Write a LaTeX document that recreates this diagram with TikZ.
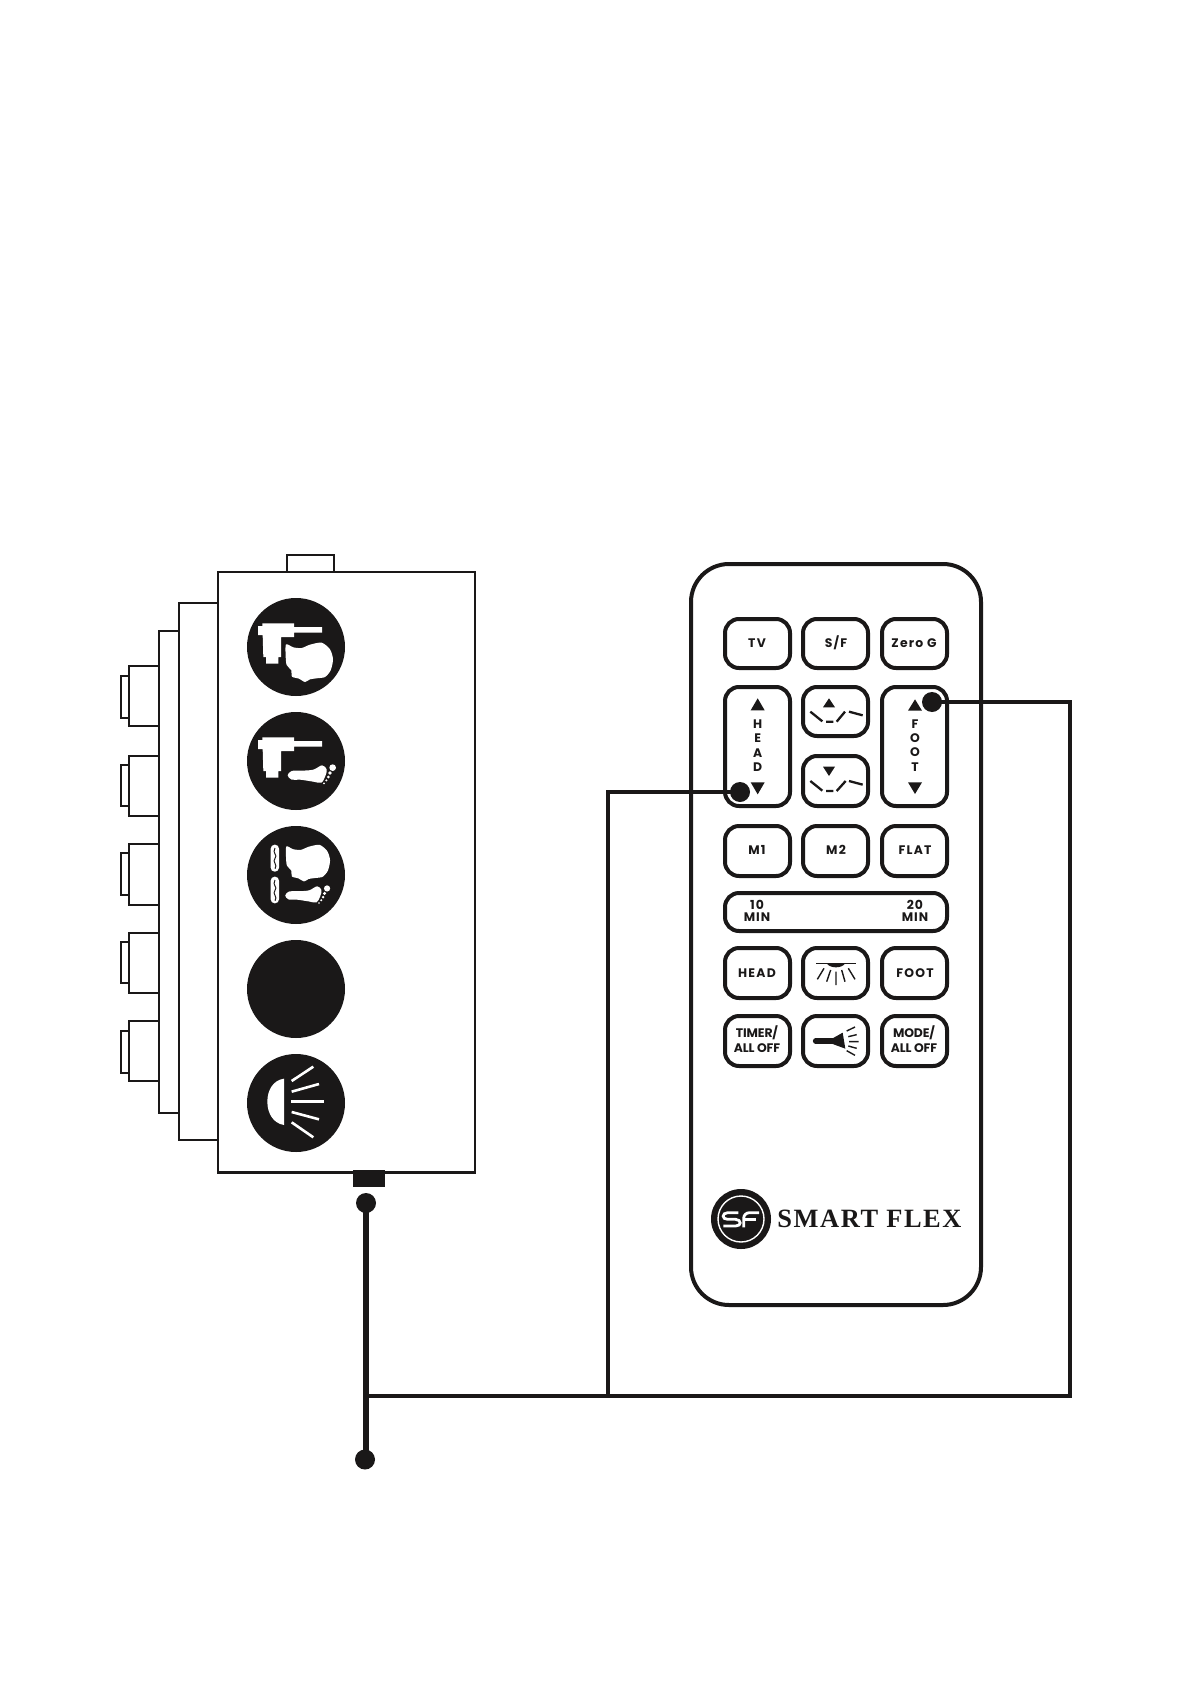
\documentclass[tikz,border=0pt]{standalone}
\usepackage{fontspec}
\setmainfont{Poppins}
\newfontfamily\btnfont[LetterSpace=10]{Poppins}
\newfontfamily\tightfont[LetterSpace=-1]{Poppins}
\newfontfamily\wideminfont[LetterSpace=8]{Poppins}
\newfontfamily\logofont[LetterSpace=6]{Liberation Serif}
\definecolor{ink}{HTML}{1A1818}
\newcommand{\actshape}{(457,247) -- (552,247) -- (552,258) -- (636,258) -- (636,275) -- (552,275) -- (552,288) -- (513,288) -- (513,348) -- (505,348) -- (505,368) -- (468,368) -- (468,348) -- (460,348) -- (458,282) -- (444,282) -- (444,255) -- (457,255) -- cycle}
\newcommand{\headshape}{plot[smooth cycle,tension=.45] coordinates {(528,310) (550,319) (575,321) (600,311) (635,305) (660,325) (669,355) (662,388) (645,408) (620,412) (600,415) (585,423) (567,413) (546,407) (544,388) (530,372) (527,345)}}
\newcommand{\footshape}{plot[smooth cycle,tension=.55] coordinates {(533,703) (545,690) (575,689) (610,686) (636,673) (650,685) (646,705) (634,725) (610,722) (570,716) (545,716)}
 (668,680) circle (10) (660,696) circle (5.5) (655,708) circle (4.5) (649,718) circle (3.5) (642,727) circle (3)}
\tikzset{
 x=0.5pt,y=-0.5pt,
 boxline/.style={draw=ink,line width=1.4pt,fill=white},
 thinline/.style={draw=ink,line width=1.1pt,fill=white},
 disc/.style={circle,fill=ink,draw=none,minimum size=49pt,inner sep=0pt},
 dot/.style={circle,fill=ink,draw=none,minimum size=10pt,inner sep=0pt},
 wire/.style={draw=ink,line width=1.9pt},
 cord/.style={draw=ink,line width=2.6pt},
 remotebtn/.style={draw=ink,line width=2pt,rounded corners=7pt,fill=white},
 lbl/.style={font=\btnfont\bfseries\fontsize{6.2}{7}\selectfont,text=ink,inner sep=0pt},
 small/.style={font=\tightfont\bfseries\fontsize{6.2}{7}\selectfont,text=ink,inner sep=0pt},
 minlbl/.style={font=\wideminfont\bfseries\fontsize{6.2}{7}\selectfont,text=ink,inner sep=0pt},
 iconline/.style={draw=ink,line width=1.15pt},
 ray/.style={draw=white,line width=1.3pt},
}
\begin{document}
\begin{tikzpicture}
\useasboundingbox (0,0) rectangle (1191,1684);
% side housings
\draw[thinline] (218,631) -- (159,631) -- (159,1113) -- (218,1113);
\draw[boxline] (218,603) -- (179,603) -- (179,1140) -- (218,1140);
\draw[thinline] (287,572) -- (287,555) -- (334,555) -- (334,572);
% connectors
\foreach \t/\b/\st/\sb in {666/726/676/718,756/816/765/806,844/905/853/895,933/993/942/983,1021/1081/1031/1073}{
 \draw[draw=ink,line width=1.1pt,fill=white] (129,\st) -- (121,\st) -- (121,\sb) -- (129,\sb);
 \draw[boxline] (159,\t) -- (129,\t) -- (129,\b) -- (159,\b);
}
\draw[boxline,fill=none] (159,631) -- (159,1113);
% main box
\draw[boxline] (218,572) rectangle (475,1172.5);
\node[disc] (c1) at (296,647) {};
\node[disc] (c2) at (296,761) {};
\node[disc] (c3) at (296,875) {};
\node[disc] (c4) at (296,989) {};
\node[disc] (c5) at (296,1103) {};
% icons: head actuator
\begin{scope}[shift={(110,541)},scale=1/3]
 \fill[white] \actshape;
 \fill[white] \headshape;
\end{scope}
% foot actuator
\begin{scope}[shift={(110,655)},scale=1/3]
 \fill[white] \actshape;
\end{scope}
\begin{scope}[shift={(110,541)},scale=1/3]
 \fill[white] \footshape;
\end{scope}
% massage
\begin{scope}[shift={(110,540)},scale=1/3]
 \fill[white,rounded corners=2pt] (482,914) rectangle (507,995);
 \fill[white,rounded corners=2pt] (482,1010) rectangle (507,1090);
 \draw[ink,line width=.5pt] (495,924) .. controls (485,940) and (505,945) .. (495,955) .. controls (485,965) and (505,975) .. (495,986);
 \draw[ink,line width=.5pt] (495,1020) .. controls (485,1036) and (505,1041) .. (495,1051) .. controls (485,1061) and (505,1071) .. (495,1082);
 \begin{scope}[shift={(38,631)},scale=.93]
 \fill[white] \headshape;
 \end{scope}
 \begin{scope}[shift={(30,413)},scale=.93]
 \fill[white] \footshape;
 \end{scope}
\end{scope}
% lamp
\begin{scope}[shift={(110,920)},scale=1/3]
 \fill[white] (522,476) .. controls (490,480) and (472,510) .. (472,545) .. controls (472,580) and (490,610) .. (522,615) -- cycle;
 \draw[ray] (545,483) -- (610,440);
 \draw[ray] (545,515) -- (627,492);
 \draw[ray] (543,544) -- (642,544);
 \draw[ray] (545,576) -- (627,598);
 \draw[ray] (545,607) -- (610,652);
\end{scope}
% plug and cable
\node[fill=ink,inner sep=0pt,minimum width=16pt,minimum height=8.5pt] (plug) at (369,1178.5) {};
\node[dot] (dtop) at (366,1203) {};
\node[dot] (dbot) at (365,1459.5) {};
% remote
\draw[draw=ink,line width=2pt,fill=white,rounded corners=19pt] (691,564) rectangle (981,1305);
\foreach \xa/\xb/\ya/\yb/\nm in {725/790/619/668/tv,803/868/619/668/sf,882/947/619/668/zg,725/790/687/806/hd,882/947/687/806/ft,803/868/687/736/up,803/868/756/806/dn,725/790/826/876/ma,803/868/826/876/mb,882/947/826/876/fl,725/947/893/931/tm,725/790/948/998/he,803/868/948/998/li,882/947/948/998/fo,725/790/1016/1066/ti,803/868/1016/1066/to,882/947/1016/1066/mo}{
 \draw[remotebtn] (\xa,\ya) rectangle (\xb,\yb);
}
\node[lbl] (ttv) at (757,643) {TV};
\node[lbl] (tsf) at (836,643) {S/F};
\node[lbl] (tzg) at (914,643) {Zero G};
\node[lbl] (tm1) at (757,850) {M1};
\node[lbl] (tm2) at (836,850) {M2};
\node[lbl] (tfl) at (915,850) {FLAT};
\node[minlbl] (t10) at (757,905) {10};
\node[minlbl] (tmin1) at (757,917) {MIN};
\node[minlbl] (t20) at (915,905) {20};
\node[minlbl] (tmin2) at (915,917) {MIN};
\node[lbl] (thd) at (757,973) {HEAD};
\node[lbl] (tfo) at (915,973) {FOOT};
\node[small] (tti) at (757,1033) {TIMER/};
\node[small] (tao) at (757,1048) {ALL OFF};
\node[small] (tmo) at (914,1033) {MODE/};
\node[small] (tam) at (914,1048) {ALL OFF};
\foreach \c/\y/\nm in {H/724/a,E/738/b,A/753/c,D/767/d}{\node[small] (h\nm) at (757.7,\y) {\c};}
\foreach \c/\y/\nm in {F/724/a,O/738/b,O/752/c,T/767/d}{\node[small] (f\nm) at (915,\y) {\c};}
% remote icons
\begin{scope}[shift={(700,600)},scale=1/3]
 \fill[ink] (173,295) -- (152,331) -- (194,331) -- cycle;
 \fill[ink] (173,583) -- (152,547) -- (194,547) -- cycle;
 \fill[ink] (645,298) -- (624,332) -- (666,332) -- cycle;
 \fill[ink] (645,582) -- (624,547) -- (666,547) -- cycle;
 \fill[ink] (387,295) -- (369,322) -- (405,322) -- cycle;
 \fill[ink] (387,528) -- (369,500) -- (405,500) -- cycle;
 \draw[iconline] (331,335) -- (367,364) (378,365) -- (400,365) (410,365) -- (435,335) (447,335) -- (488,346);
 \draw[iconline] (331,543) -- (367,572) (378,573) -- (400,573) (410,573) -- (437,543) (447,543) -- (488,554);
\end{scope}
\begin{scope}[shift={(700,930)},scale=1/3]
 \draw[draw=ink,line width=.7pt] (348,100) -- (468,100);
 \fill[ink] (380,100) .. controls (390,116) and (425,116) .. (436,100) -- cycle;
 \draw[draw=ink,line width=.7pt] (372,115) -- (352,148) (392,120) -- (380,155) (408,125) -- (408,165) (425,120) -- (435,155) (445,115) -- (465,148);
 \draw[draw=ink,line width=2.8pt,line cap=round] (347,333) -- (400,333);
 \fill[ink] (398,325) -- (428,308) -- (436,356) -- (398,342) -- cycle;
 \draw[draw=ink,line width=.7pt] (440,303) -- (465,291) (445,320) -- (470,314) (447,335) -- (476,335) (445,348) -- (470,355) (440,362) -- (465,376);
\end{scope}
% logo
\node[circle,fill=ink,minimum size=30pt,inner sep=0pt] (logo) at (741,1219) {};
\node[circle,draw=white,line width=.7pt,minimum size=23pt,inner sep=0pt] (ring) at (741,1219) {};
\begin{scope}[shift={(705,1185)},scale=1/3]
 \draw[white,line width=1.4pt] (100,83) -- (68,83) .. controls (50,84) and (50,103) .. (68,103) -- (92,103) .. controls (110,104) and (110,123) .. (92,123) -- (55,123);
 \draw[white,line width=1.4pt] (116,127) -- (116,100) .. controls (116,90) and (124,83) .. (134,83) -- (162,83);
 \draw[white,line width=1.4pt] (118,103) -- (154,103);
\end{scope}
\node[font=\logofont\bfseries\fontsize{13.2}{14}\selectfont,text=ink,inner sep=0pt,anchor=west] (brand) at (777,1219) {SMART FLEX};
% wires
\node[dot] (dhead) at (740,792) {};
\node[dot] (dfoot) at (932,702) {};
\coordinate (junc) at (366.3,1396);
\coordinate (juncb) at (608,1396);
\coordinate (corner) at (1070,1396);
\draw[cord] (dtop.center) -- (dtop.center |- dbot.center);
\draw[wire] (junc) -- (corner) |- (dfoot.center);
\draw[wire] (juncb) |- (dhead.center);
\end{tikzpicture}
\end{document}
